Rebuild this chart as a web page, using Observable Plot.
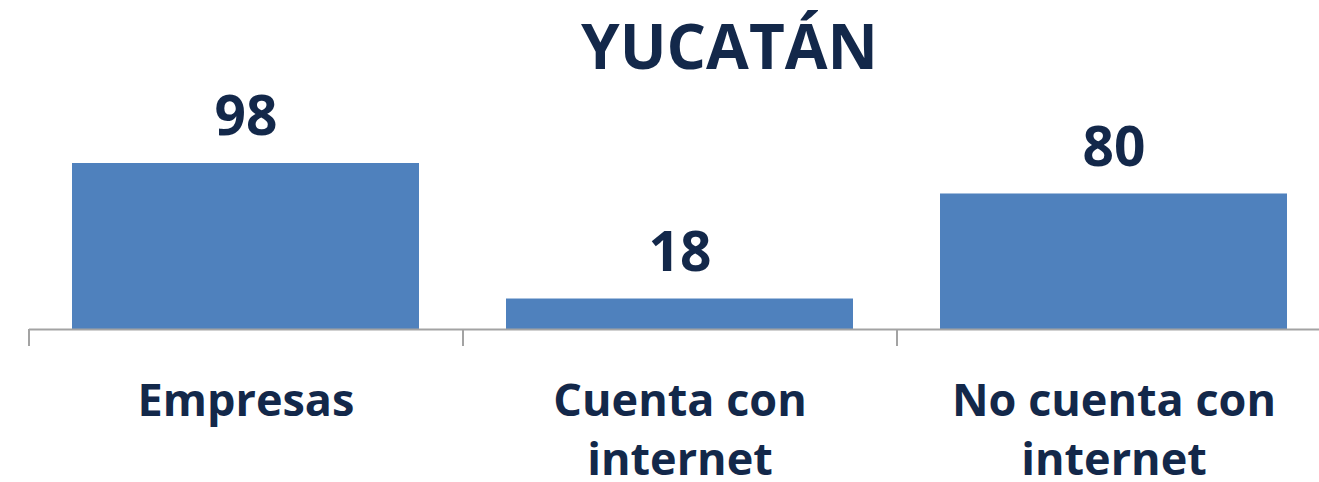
<!DOCTYPE html>
<html>
<head>
<meta charset="utf-8">
<script src="https://cdn.jsdelivr.net/npm/d3@7"></script>
<script src="https://cdn.jsdelivr.net/npm/@observablehq/plot@0.6"></script>
<style>
  html, body { margin: 0; padding: 0; background: #fff; }
  #chart svg { display: block; }
</style>
</head>
<body>
<div id="chart"></div>
<script>
const title = "YUCATÁN";
const categories = ["Empresas", "Cuenta con internet", "No cuenta con internet"];
const tickLabels = ["Empresas", "Cuenta con\ninternet", "No cuenta con\ninternet"];
const values = [98, 18, 80];

const data = categories.map((c, i) => ({category: c, value: values[i], label: tickLabels[i]}));

const textColor = "#13284a";
const barColor = "#4f81bd";
const axisColor = "#a3a3a3";
const font = "'Open Sans', sans-serif";

const W = 1319, H = 482;
const baseY = 329;
const step = 434;

const chart = Plot.plot({
  width: W,
  height: H,
  marginLeft: 29,
  marginRight: 0,
  marginTop: baseY,
  marginBottom: H - 346,
  style: {fontFamily: font, background: "#fff", overflow: "visible"},
  x: {domain: categories, range: [29, 29 + step * 3], paddingInner: 0.2, paddingOuter: 0.1, axis: null},
  y: {domain: [0, 98], range: [baseY, 163], axis: null},
  marks: [
    Plot.barY(data, {x: "category", y: "value", fill: barColor}),
    Plot.ruleY([0], {stroke: axisColor, strokeWidth: 2}),
    Plot.ruleX(categories, {x: d => d, dx: -step / 2, stroke: axisColor, strokeWidth: 2}),
    Plot.text(data, {x: "category", y: "value", text: d => String(d.value), dy: -46,
      fill: textColor, fontSize: 55, fontWeight: 700, fontFamily: font}),
    Plot.text(data, {x: "category", y: 0, text: "label", lineAnchor: "top", dy: 45,
      lineHeight: 1.31, fill: textColor, fontSize: 45, fontWeight: 700, fontFamily: font}),
    Plot.text([title], {frameAnchor: "top", dx: 55, dy: 24 - baseY,
      fill: textColor, fontSize: 62, fontWeight: 700, fontFamily: font})
  ]
});

document.getElementById("chart").appendChild(chart);
</script>
</body>
</html>
